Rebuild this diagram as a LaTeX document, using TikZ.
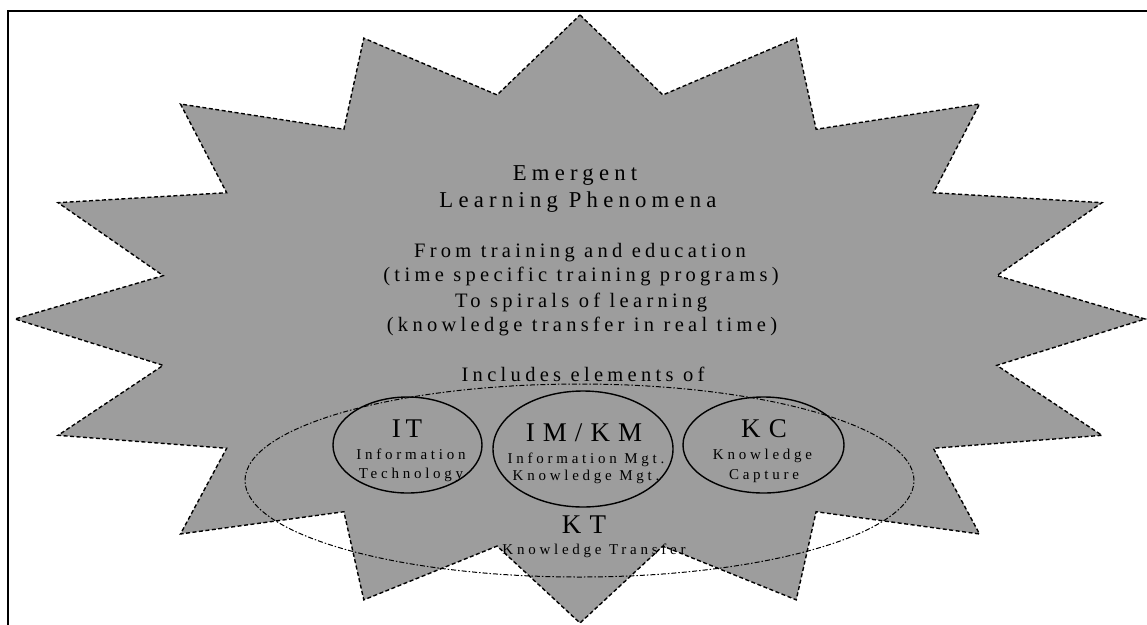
\documentclass[tikz,border=0pt]{standalone}
\usepackage{fontspec}
\usetikzlibrary{shapes.geometric}
\setmainfont{Liberation Serif}
\newfontfamily\lsTitle[LetterSpace=23]{Liberation Serif}
\newfontfamily\lsBody[LetterSpace=21]{Liberation Serif}
\newfontfamily\lsSmall[LetterSpace=25]{Liberation Serif}
\newfontfamily\lsAbbr[LetterSpace=30]{Liberation Serif}
\newfontfamily\lsAbbrIT[LetterSpace=17]{Liberation Serif}
\definecolor{starfill}{RGB}{157,157,157}
\begin{document}
\begin{tikzpicture}[x=1pt,y=-1pt,
  starline/.style={draw=black,line width=1.4pt,dash pattern=on 4pt off 2.5pt,fill=starfill},
  bigell/.style={ellipse,draw=black,line width=1pt,dash pattern=on 5pt off 2pt on 1.5pt off 2pt,inner sep=0pt},
  smallell/.style={ellipse,draw=black,line width=1.4pt,inner sep=0pt},
  titletext/.style={anchor=base,inner sep=0pt,font=\lsTitle\fontsize{22.7}{27}\selectfont},
  bodytext/.style={anchor=base,inner sep=0pt,font=\lsBody\fontsize{20.5}{25}\selectfont},
  abbrtext/.style={anchor=base,inner sep=0pt,font=\lsAbbr\fontsize{27}{32}\selectfont},
  smalltext/.style={anchor=base,inner sep=0pt,font=\lsSmall\fontsize{15}{18}\selectfont}]
\useasboundingbox (0,0) rectangle (1147,624);
\clip (0,0) rectangle (1147,624);
% frame
\draw[line width=2pt] (8,11) rectangle (1170,650);
% star burst
\draw[starline] (580,15)
  \foreach \k in {0,...,15}{
    -- ({580+425*cos(78.75-22.5*\k)},{320.5-230*sin(78.75-22.5*\k)})
    -- ({580+565*cos(67.5-22.5*\k)},{319-304*sin(67.5-22.5*\k)})
  } -- cycle;
% ellipses
\node[bigell,minimum width=669,minimum height=193] (KTell) at (579.5,480.5) {};
\node[smallell,minimum width=149,minimum height=96] (ITell) at (407.5,445) {};
\node[smallell,minimum width=180,minimum height=116] (IMKMell) at (583,449) {};
\node[smallell,minimum width=161,minimum height=96] (KCell) at (763.5,445) {};
% main text
\node[titletext] (t1) at (575,180) {Emergent};
\node[titletext] (t2) at (578,207) {Learning Phenomena};
\node[bodytext] (b1) at (580,257) {From training and education};
\node[bodytext] (b2) at (581,281) {(time specific training programs)};
\node[bodytext] (b3) at (581,307) {To spirals of learning};
\node[bodytext] (b4) at (582,331) {(knowledge transfer in real time)};
\node[bodytext] (b5) at (583,381) {Includes elements of};
% IT
\node[anchor=base,inner sep=0pt,font=\lsAbbrIT\fontsize{27}{32}\selectfont] (ITa) at (407,437) {IT};
\node[smalltext] (ITb) at (411,459) {Information};
\node[smalltext] (ITc) at (411,478) {Technology};
% IM/KM
\node[abbrtext] (IMa) at (584,441) {IM/KM};
\node[smalltext] (IMb) at (586,463) {Information Mgt.};
\node[smalltext] (IMc) at (586,480) {Knowledge Mgt.};
% KC
\node[abbrtext] (KCa) at (764,437) {KC};
\node[smalltext] (KCb) at (762.5,459) {Knowledge};
\node[smalltext] (KCc) at (764,479) {Capture};
% KT
\node[abbrtext] (KTa) at (584,533) {KT};
\node[smalltext] (KTb) at (594,554) {Knowledge Transfer};
\end{tikzpicture}
\end{document}
